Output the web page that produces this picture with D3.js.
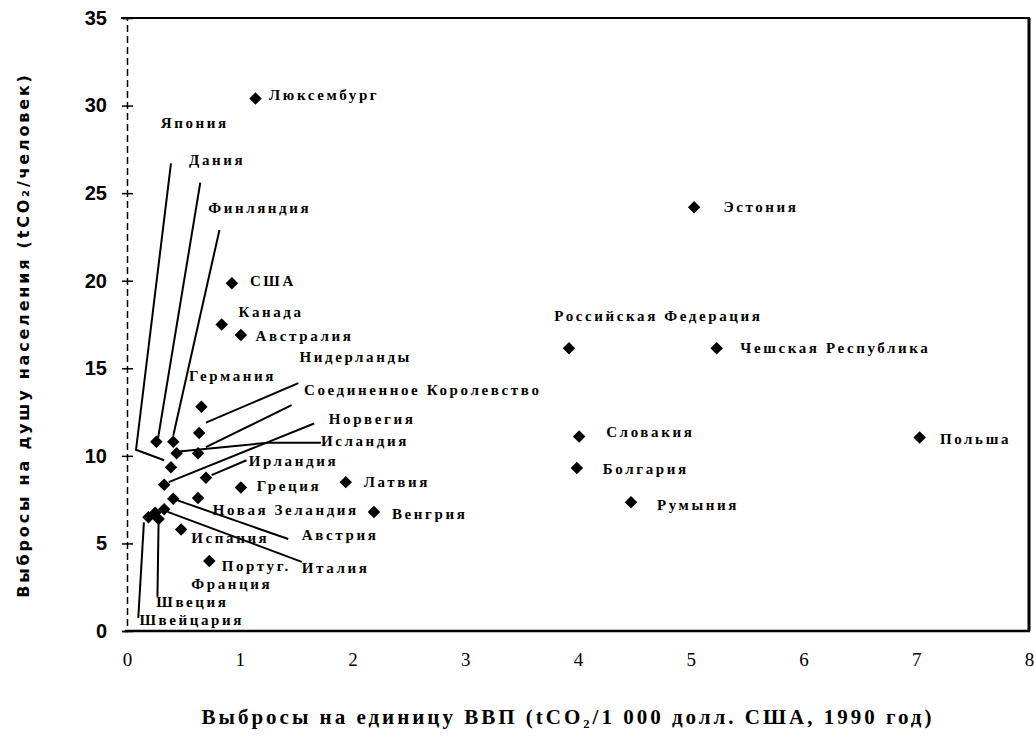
<!DOCTYPE html>
<html><head><meta charset="utf-8">
<script src="https://cdn.jsdelivr.net/npm/d3@7"></script>
<style>
html,body{margin:0;padding:0;background:#fff;}
svg{display:block;}
</style></head>
<body>
<svg id="c" width="1034" height="747"></svg>
<script>
// ---- data ----
const countries = ["Люксембург","Япония","Дания","Финляндия","США","Канада","Австралия","Нидерланды","Германия","Соединенное Королевство","Норвегия","Исландия","Ирландия","Греция","Латвия","Новая Зеландия","Венгрия","Австрия","Испания","Италия","Португ.","Франция","Швеция","Швейцария","Эстония","Российская Федерация","Чешская Республика","Словакия","Болгария","Румыния","Польша"];
// emissions per unit of GDP (tCO2 / 1000 USD)
const gdpIntensity = [1.14,0.39,0.26,0.41,0.93,0.84,1.01,0.64,0.66,0.63,0.33,0.44,0.70,1.01,1.94,0.63,2.19,0.41,0.48,0.33,0.73,0.25,0.28,0.19,5.03,3.92,5.23,4.01,3.99,4.47,7.03];
// emissions per capita (tCO2 / person)
const perCapita = [30.4,9.35,10.8,10.8,19.85,17.5,16.9,11.3,12.8,10.15,8.35,10.15,8.75,8.2,8.5,7.6,6.8,7.55,5.8,6.95,4.0,6.75,6.4,6.5,24.2,16.15,16.15,11.1,9.3,7.35,11.05];
// label anchor (data units) for each country
const labelX = [1.26,0.30,0.55,0.72,1.09,0.99,1.14,1.53,0.55,1.57,1.79,1.72,1.08,1.15,2.10,0.76,2.35,1.55,0.57,1.55,0.84,0.57,0.26,0.11,5.29,3.79,5.44,4.25,4.22,4.70,7.21];
const labelY = [30.6,29.0,26.9,24.15,20.0,18.2,16.85,15.65,14.55,13.75,12.1,10.85,9.7,8.3,8.5,6.9,6.7,5.5,5.35,3.6,3.7,2.7,1.65,0.65,24.2,18.0,16.2,11.4,9.25,7.2,11.0];
// leader lines (data units)
const leaders = [
  [[0.39,26.7],[0.08,10.35],[0.33,9.75]],            // Япония
  [[0.65,25.6],[0.27,10.8]],                          // Дания
  [[0.82,22.9],[0.41,11.15]],                         // Финляндия
  [[1.52,14.15],[0.70,11.9]],                         // Нидерланды
  [[1.46,12.9],[0.70,10.5]],                          // Соединенное Королевство
  [[1.66,11.85],[0.37,8.5]],                          // Норвегия
  [[1.72,10.75],[1.25,10.75],[0.46,10.25]],           // Исландия
  [[1.06,9.75],[0.75,8.9]],                           // Ирландия
  [[0.43,7.5],[1.43,5.25]],                           // Австрия
  [[0.36,6.8],[1.55,3.95]],                           // Италия
  [[0.28,6.2],[0.27,1.95]],                           // Швеция
  [[0.15,6.2],[0.10,0.75]]                            // Швейцария
];
const xTicks = [0,1,2,3,4,5,6,7,8];
const xTickLabels = ["0","1","2","3","4","5","6","7","8"];
const yTicks = [0,5,10,15,20,25,30,35];
const xTitle = "Выбросы на единицу ВВП (tCO₂/1 000 долл. США, 1990 год)";
const yTitle = "Выбросы на душу населения (tCO₂/человек)";

// ---- chart ----
const svg = d3.select("#c");
const x = d3.scaleLinear().domain([0,8]).range([127,1029]);
const y = d3.scaleLinear().domain([0,35]).range([631,18]);

// frame
const g = svg.append("g");
g.append("line").attr("x1",x(0)-6).attr("x2",x(8)+1).attr("y1",y(35)).attr("y2",y(35)).attr("stroke","#000").attr("stroke-width",2);
g.append("line").attr("x1",x(0)-2).attr("x2",x(8)+1).attr("y1",y(0)).attr("y2",y(0)).attr("stroke","#000").attr("stroke-width",2.5);
g.append("line").attr("x1",x(8)).attr("x2",x(8)).attr("y1",y(35)).attr("y2",y(0)).attr("stroke","#000").attr("stroke-width",3);

// y axis (dashed)
const yAxis = d3.axisLeft(y).tickValues(yTicks).tickSize(5).tickPadding(15).tickFormat(d3.format("d"));
const ya = svg.append("g").attr("transform",`translate(${x(0)},0)`).call(yAxis);
ya.select(".domain").attr("stroke","#000").attr("stroke-width",1.5).attr("stroke-dasharray","7,4");
ya.selectAll(".tick line").attr("x1",6).attr("x2",-5).attr("stroke-width",1.5);
ya.selectAll(".tick text").attr("font-family","'Liberation Sans',Arial,sans-serif").attr("font-weight","bold").attr("font-size",20).attr("fill","#000");

// x axis labels
const xAxis = d3.axisBottom(x).tickValues(xTicks).tickSize(0).tickPadding(22).tickFormat((d,i)=>xTickLabels[i]);
const xa = svg.append("g").attr("transform",`translate(0,${y(0)})`).call(xAxis);
xa.select(".domain").remove();
xa.selectAll(".tick text").attr("font-family","'Liberation Serif','Times New Roman',serif").attr("font-size",19).attr("fill","#000");

// leader lines
const line = d3.line().x(d=>x(d[0])).y(d=>y(d[1]));
svg.append("g").selectAll("path").data(leaders).join("path")
  .attr("d",line).attr("fill","none").attr("stroke","#000").attr("stroke-width",2);

// points
const sym = d3.symbol().type(d3.symbolSquare).size(78);
svg.append("g").selectAll("path").data(countries).join("path")
  .attr("d",sym)
  .attr("transform",(d,i)=>`translate(${x(gdpIntensity[i])},${y(perCapita[i])}) rotate(45)`)
  .attr("fill","#000");

// labels
svg.append("g").selectAll("text").data(countries).join("text")
  .attr("x",(d,i)=>x(labelX[i])).attr("y",(d,i)=>y(labelY[i]))
  .attr("dy","0.35em")
  .attr("font-family","'Liberation Serif','Times New Roman',serif")
  .attr("font-weight","bold").attr("font-size",15).attr("letter-spacing","2.6px")
  .attr("fill","#000").text(d=>d);

// axis titles
svg.append("text").attr("x",568).attr("y",724).attr("text-anchor","middle")
  .attr("font-family","'Liberation Serif','Times New Roman',serif").attr("font-weight","bold")
  .attr("font-size",21).attr("letter-spacing","3px").attr("fill","#000").text(xTitle);
svg.append("text").attr("transform","translate(29,335) rotate(-90)").attr("text-anchor","middle")
  .attr("font-family","'DejaVu Sans',sans-serif").attr("font-weight","bold")
  .attr("font-size",16).attr("letter-spacing","2.8px").attr("fill","#000").text(yTitle);
</script>
</body></html>
